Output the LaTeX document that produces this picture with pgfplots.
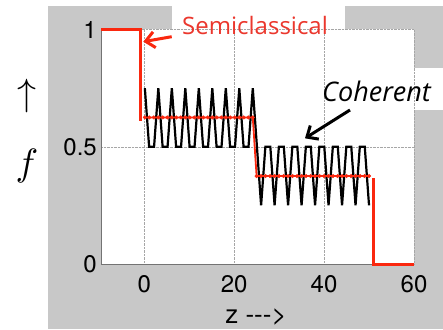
\documentclass[border=0pt]{standalone}
\usepackage{fontspec}
\setmainfont{TeX Gyre Heros}
\newfontfamily\osans{Open Sans}
\usepackage{graphicx}
\usepackage{pgfplots}
\pgfplotsset{compat=1.18}
\usetikzlibrary{arrows.meta}
\definecolor{bg}{RGB}{200,200,200}
\definecolor{lred}{RGB}{250,40,15}
\definecolor{tred}{RGB}{235,55,45}
\begin{document}
\begin{tikzpicture}[x=1pt,y=1pt]
\path[use as bounding box] (0,0) rectangle (443,329);
\fill[white] (0,0) rectangle (443,329);
\fill[bg] (48,0) rectangle (443,323);
\fill[white] (172,299.5) rectangle (345,329);
\fill[white] (414,219) rectangle (443,261);
\fill[white] (101,65) rectangle (414,299.5);
\begin{axis}[at={(101pt,65pt)}, anchor=south west, scale only axis,
  width=313pt, height=234.5pt,
  xmin=-9.6, xmax=60, ymin=0, ymax=1, clip=false,
  axis x line*=bottom, axis y line*=left,
  axis line style={draw=gray!90!black, line width=0.8pt},
  xtick={0,20,40,60}, ytick={0,0.5,1},
  grid=major, major grid style={densely dotted, gray!70, line width=0.5pt},
  major tick length=0pt,
  tick label style={font=\fontsize{24}{24}\selectfont, inner sep=0pt},
  xticklabel style={yshift=-11pt},
  yticklabel style={xshift=-4pt},
  /pgf/number format/assume math mode=true,
]
% coherent
\addplot[black, line width=2.2pt, mark=none] coordinates {
(0.15,0.75) (1.1,0.5) (2.2,0.5) (3.15,0.75) (4.1,0.5) (5.2,0.5) (6.15,0.75) (7.1,0.5) (8.2,0.5) (9.15,0.75) (10.1,0.5) (11.2,0.5) (12.15,0.75) (13.1,0.5) (14.2,0.5) (15.15,0.75) (16.1,0.5) (17.2,0.5) (18.15,0.75) (19.1,0.5) (20.2,0.5) (21.15,0.75) (22.1,0.5) (23.2,0.5) (24.15,0.75)
(26,0.25) (26.95,0.5) (28.05,0.5) (29,0.25) (29.95,0.5) (31.05,0.5) (32,0.25) (32.95,0.5) (34.05,0.5) (35,0.25) (35.95,0.5) (37.05,0.5) (38,0.25) (38.95,0.5) (40.05,0.5) (41,0.25) (41.95,0.5) (43.05,0.5) (44,0.25) (44.95,0.5) (46.05,0.5) (47,0.25) (47.95,0.5) (49.05,0.5) (50,0.25)
};
% averaged (thin red with dots)
\addplot[lred, line width=1.8pt, mark=*, mark size=1.8pt, mark options={fill=lred, draw=lred, line width=0.4pt}] coordinates {
(0.15,0.625) (1.15,0.625) (2.15,0.625) (3.15,0.625) (4.15,0.625) (5.15,0.625) (6.15,0.625) (7.15,0.625) (8.15,0.625) (9.15,0.625) (10.15,0.625) (11.15,0.625) (12.15,0.625) (13.15,0.625) (14.15,0.625) (15.15,0.625) (16.15,0.625) (17.15,0.625) (18.15,0.625) (19.15,0.625) (20.15,0.625) (21.15,0.625) (22.15,0.625) (23.15,0.625) (24.15,0.625)
(25,0.375) (26,0.375) (27,0.375) (28,0.375) (29,0.375) (30,0.375) (31,0.375) (32,0.375) (33,0.375) (34,0.375) (35,0.375) (36,0.375) (37,0.375) (38,0.375) (39,0.375) (40,0.375) (41,0.375) (42,0.375) (43,0.375) (44,0.375) (45,0.375) (46,0.375) (47,0.375) (48,0.375) (49,0.375) (50,0.375)
};
% semiclassical
\addplot[lred, line width=3pt, mark=none] coordinates {(-9.6,1) (-0.8,1) (-0.8,0.61)};
\addplot[lred, line width=3pt, mark=none] coordinates {(50.9,0.365) (50.9,0) (60,0)};
\end{axis}
\node[anchor=base west, text=tred, font=\osans\fontsize{24}{24}\selectfont, inner sep=0pt] at (182,294) {Semiclassical};
\node[anchor=base west, font=\osans\itshape\fontsize{27}{27}\selectfont, inner sep=0pt] at (322,227.5) {Coherent};
\draw[lred, line width=3pt, -{Straight Barb[length=9pt,width=16pt]}] (171.7,292.3) -- (143.3,287.3);
\draw[black, line width=3pt, -{Straight Barb[length=9pt,width=16pt]}] (350,219) -- (305,190.7);
\node at (27,232.5) {\scalebox{3.8}{$\uparrow$}};
\node at (27,163) {\scalebox{3.8}{$f$}};
\node[anchor=base, font=\fontsize{26}{26}\selectfont, inner sep=0pt] at (256,6) {z -{}-{}->};
\end{tikzpicture}
\end{document}
